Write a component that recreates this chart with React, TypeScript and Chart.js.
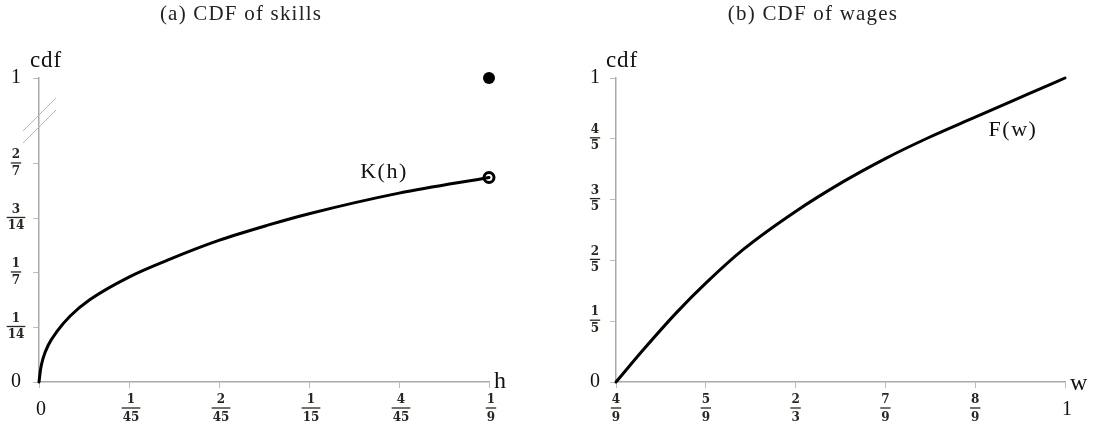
import React, { useEffect, useRef } from 'react';
import { Chart, registerables } from 'chart.js';

Chart.register(...registerables);

// ---------- data ----------
const skillH = [0, 0.0004, 0.001, 0.0023, 0.0044, 0.0077, 0.0126, 0.0222, 0.0319, 0.0444, 0.0565, 0.0667, 0.0889, 1 / 9];
const skillK = [0, 0.017, 0.031, 0.0485, 0.066, 0.0865, 0.108, 0.1375, 0.16, 0.1855, 0.2055, 0.2205, 0.2475, 0.268];
const massPointH = [1 / 9];
const massPointK = [1];
const openPointH = [1 / 9];
const openPointK = [0.268];

const wageW = [4 / 9, 0.4782, 0.5196, 5 / 9, 0.602, 2 / 3, 0.7257, 7 / 9, 0.8289, 8 / 9, 0.9526, 1];
const wageF = [0, 0.106, 0.229, 0.325, 0.436, 0.561, 0.659, 0.735, 0.801, 0.871, 0.945, 1];

const leftXTicks = [0, 1 / 45, 2 / 45, 1 / 15, 4 / 45, 1 / 9];
const leftXLabels = ['0', '1/45', '2/45', '1/15', '4/45', '1/9'];
const leftYTicks = [0, 1 / 14, 1 / 7, 3 / 14, 2 / 7, 1];
const leftYLabels = ['0', '1/14', '1/7', '3/14', '2/7', '1'];

const rightXTicks = [4 / 9, 5 / 9, 2 / 3, 7 / 9, 8 / 9, 1];
const rightXLabels = ['4/9', '5/9', '2/3', '7/9', '8/9', '1'];
const rightYTicks = [0, 0.2, 0.4, 0.6, 0.8, 1];
const rightYLabels = ['0', '1/5', '2/5', '3/5', '4/5', '1'];

// ---------- broken y axis for the left panel ----------
const BREAK_LOW = 2 / 7;
const ONE_POS = 5.577 / 14;
const mapY = (v: number) => (v <= BREAK_LOW ? v : BREAK_LOW + ((v - BREAK_LOW) * (ONE_POS - BREAK_LOW)) / (1 - BREAK_LOW));

const SERIF = '"Liberation Serif", "DejaVu Serif", serif';
const FRAC = '"DejaVu Serif", "Liberation Serif", serif';
const TEXT = '#111';

function setSpacing(ctx: any, v: string) {
  if ('letterSpacing' in ctx) ctx.letterSpacing = v;
}

function drawTickLabel(ctx: CanvasRenderingContext2D, label: string, x: number, y: number, axis: 'x' | 'y') {
  ctx.save();
  ctx.fillStyle = TEXT;
  ctx.textAlign = 'center';
  ctx.textBaseline = 'middle';
  if (label.includes('/')) {
    const [num, den] = label.split('/');
    ctx.font = `bold 12px ${FRAC}`;
    const w = Math.max(ctx.measureText(num).width, ctx.measureText(den).width) + 2;
    const barY = axis === 'y' ? y - 1 : 408;
    ctx.fillStyle = '#2b2620';
    ctx.fillText(num, x, barY - 8);
    ctx.fillText(den, x, barY + (axis === 'y' ? 8.5 : 10));
    ctx.strokeStyle = '#2b2620';
    ctx.lineWidth = 1.3;
    ctx.beginPath();
    ctx.moveTo(x - w / 2, barY);
    ctx.lineTo(x + w / 2, barY);
    ctx.stroke();
  } else {
    ctx.font = `20px ${SERIF}`;
    ctx.fillText(label, x, axis === 'y' ? y : 410);
  }
  ctx.restore();
}

type PanelSpec = {
  title: string;
  titleX: number;
  xTicks: number[];
  xLabels: string[];
  yTicks: number[];
  yLabels: string[];
  yLabelX: number;
  xLabelDx: number;
  cdfX: number;
  axisName: string;
  axisNameX: number;
  axisNameY: number;
  curveName: string;
  curveNameX: number;
  curveNameY: number;
  breakMarks: boolean;
};

function makeLabelPlugin(spec: PanelSpec, yMap: (v: number) => number) {
  return {
    id: 'labels',
    afterDraw(chart: any) {
      const ctx: CanvasRenderingContext2D = chart.ctx;
      const xs = chart.scales.x;
      const ys = chart.scales.y;
      ctx.save();
      ctx.fillStyle = '#222';
      ctx.font = `21px ${SERIF}`;
      setSpacing(ctx, '1.2px');
      ctx.textAlign = 'center';
      ctx.textBaseline = 'middle';
      ctx.fillText(spec.title, spec.titleX, 14);
      ctx.font = `23px ${SERIF}`;
      setSpacing(ctx, '0.8px');
      ctx.fillStyle = TEXT;
      ctx.fillText('cdf', spec.cdfX, 61);
      setSpacing(ctx, '0px');
      ctx.textAlign = 'left';
      ctx.textBaseline = 'alphabetic';
      ctx.font = `24px ${SERIF}`;
      ctx.fillText(spec.axisName, spec.axisNameX, spec.axisNameY);
      ctx.textAlign = 'center';
      ctx.textBaseline = 'middle';
      ctx.font = `22px ${SERIF}`;
      setSpacing(ctx, '1.5px');
      ctx.fillText(spec.curveName, spec.curveNameX, spec.curveNameY);
      ctx.restore();

      spec.xTicks.forEach((v, i) => {
        const px = xs.getPixelForValue(v);
        const lab = spec.xLabels[i];
        drawTickLabel(ctx, lab, px + (lab.includes('/') ? spec.xLabelDx : 2), 0, 'x');
      });
      spec.yTicks.forEach((v, i) => {
        const py = ys.getPixelForValue(yMap(v));
        drawTickLabel(ctx, spec.yLabels[i], spec.yLabelX, py, 'y');
      });

      if (spec.breakMarks) {
        const ax = chart.chartArea.left;
        ctx.save();
        ctx.strokeStyle = '#b8b8b8';
        ctx.lineWidth = 1;
        ctx.beginPath();
        ctx.moveTo(ax - 16, 131);
        ctx.lineTo(ax + 17, 98);
        ctx.moveTo(ax - 16, 143);
        ctx.lineTo(ax + 17, 110);
        ctx.stroke();
        ctx.restore();
      }
    },
  };
}

function scaleOpts(min: number, max: number, ticks: number[], isX: boolean) {
  return {
    type: 'linear' as const,
    min,
    max,
    afterBuildTicks: (s: any) => {
      s.ticks = ticks.map((v) => ({ value: v }));
    },
    afterFit: (s: any) => {
      if (isX) s.height = 0;
      else s.width = 0;
    },
    grid: {
      display: true,
      drawOnChartArea: false,
      drawTicks: true,
      tickLength: 6,
      color: '#bdbdbd',
      lineWidth: 1,
    },
    border: { display: true, color: '#a9a9a9', width: 1.5 },
    ticks: { display: false },
  };
}

function Panel(props: {
  width: number;
  left: number;
  padding: { left: number; right: number; top: number; bottom: number };
  datasets: any[];
  xMin: number;
  xMax: number;
  yMax: number;
  spec: PanelSpec;
  yMap: (v: number) => number;
}) {
  const ref = useRef<HTMLCanvasElement | null>(null);
  useEffect(() => {
    if (!ref.current) return;
    const { spec, yMap } = props;
    const chart = new Chart(ref.current, {
      type: 'line',
      data: { datasets: props.datasets },
      options: {
        animation: false,
        responsive: false,
        devicePixelRatio: 1,
        layout: { padding: props.padding },
        parsing: false as any,
        plugins: { legend: { display: false }, tooltip: { enabled: false }, title: { display: false } },
        scales: {
          x: scaleOpts(props.xMin, props.xMax, spec.xTicks, true),
          y: scaleOpts(0, props.yMax, spec.yTicks.map(yMap), false),
        },
      },
      plugins: [makeLabelPlugin(spec, yMap)],
    });
    return () => chart.destroy();
  }, []);
  return (
    <canvas
      ref={ref}
      width={props.width}
      height={434}
      style={{ position: 'absolute', left: props.left, top: 0, width: props.width, height: 434, display: 'block' }}
    />
  );
}

const curveStyle = {
  borderColor: '#000',
  borderWidth: 3,
  pointRadius: 0,
  fill: false,
  cubicInterpolationMode: 'monotone' as const,
  borderCapStyle: 'round' as const,
  borderJoinStyle: 'round' as const,
  clip: false as any,
};

export default function App() {
  const leftDatasets = [
    { ...curveStyle, data: skillH.map((h, i) => ({ x: h, y: mapY(skillK[i]) })) },
    {
      data: massPointH.map((h, i) => ({ x: h, y: mapY(massPointK[i]) })),
      showLine: false,
      pointRadius: 6,
      pointBackgroundColor: '#000',
      pointBorderColor: '#000',
      pointBorderWidth: 0,
      clip: false,
    },
    {
      data: openPointH.map((h, i) => ({ x: h, y: mapY(openPointK[i]) })),
      showLine: false,
      pointRadius: 5,
      pointBackgroundColor: '#fff',
      pointBorderColor: '#000',
      pointBorderWidth: 3,
      clip: false,
    },
  ];
  const rightDatasets = [{ ...curveStyle, data: wageW.map((w, i) => ({ x: w, y: wageF[i] })) }];

  const leftSpec: PanelSpec = {
    title: '(a) CDF of skills',
    titleX: 241,
    xTicks: leftXTicks,
    xLabels: leftXLabels,
    yTicks: leftYTicks,
    yLabels: leftYLabels,
    yLabelX: 16,
    xLabelDx: 2,
    cdfX: 46,
    axisName: 'h',
    axisNameX: 494,
    axisNameY: 388,
    curveName: 'K(h)',
    curveNameX: 384,
    curveNameY: 172,
    breakMarks: true,
  };
  const rightSpec: PanelSpec = {
    title: '(b) CDF of wages',
    titleX: 813 - 548,
    xTicks: rightXTicks,
    xLabels: rightXLabels,
    yTicks: rightYTicks,
    yLabels: rightYLabels,
    yLabelX: 595 - 548,
    xLabelDx: 0,
    cdfX: 622 - 548,
    axisName: 'w',
    axisNameX: 1070 - 548,
    axisNameY: 390,
    curveName: 'F(w)',
    curveNameX: 1013 - 548,
    curveNameY: 130,
    breakMarks: false,
  };

  return (
    <div style={{ position: 'absolute', left: 0, top: 0, width: 1095, height: 434, background: '#fff' }}>
      <Panel
        width={548}
        left={0}
        padding={{ left: 39, right: 59, top: 78, bottom: 52 }}
        datasets={leftDatasets}
        xMin={0}
        xMax={1 / 9}
        yMax={ONE_POS}
        spec={leftSpec}
        yMap={mapY}
      />
      <Panel
        width={547}
        left={548}
        padding={{ left: 68, right: 30, top: 78, bottom: 52 }}
        datasets={rightDatasets}
        xMin={4 / 9}
        xMax={1}
        yMax={1}
        spec={rightSpec}
        yMap={(v) => v}
      />
    </div>
  );
}
